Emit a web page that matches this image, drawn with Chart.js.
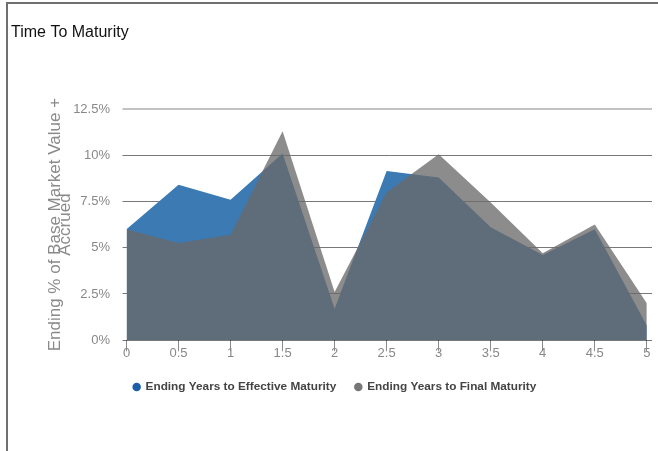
<!DOCTYPE html>
<html>
<head>
<meta charset="utf-8">
<script src="https://cdn.jsdelivr.net/npm/chart.js@4.4.1/dist/chart.umd.min.js"></script>
<style>
  html, body { margin: 0; padding: 0; background: #fff; }
  #frame {
    position: absolute; left: 6px; top: 2px; width: 652px; height: 449px;
    border-top: 2px solid #6f6f6f; border-left: 2px solid #6f6f6f; box-sizing: border-box;
  }
  #c { position: absolute; left: 0; top: 0; }
</style>
</head>
<body>
<div id="frame"></div>
<canvas id="c" width="658" height="451"></canvas>
<script>
// Years to maturity buckets (x axis)
const maturityYears = [0, 0.5, 1, 1.5, 2, 2.5, 3, 3.5, 4, 4.5, 5];
// Ending % of base market value + accrued, per bucket
const effectiveMaturityPct = [6.0, 8.4, 7.6, 10.1, 1.7, 9.15, 8.8, 6.1, 4.6, 6.0, 0.8];
const finalMaturityPct     = [6.0, 5.25, 5.7, 11.3, 2.6, 8.0, 10.05, 7.45, 4.7, 6.25, 2.0];
// Y axis tick values (percent)
const percentTicks = [0, 2.5, 5, 7.5, 10, 12.5];
const seriesNames = ['Ending Years to Effective Maturity', 'Ending Years to Final Maturity'];

const FONT = "'Liberation Sans', Arial, sans-serif";
const legendDotColors = ['#1d5ea8', '#767676'];

const toPoints = vals => maturityYears.map((x, i) => ({ x, y: vals[i] }));

// nudge the legend a little to the right of the centred position
const legendNudge = {
  id: 'legendNudge',
  afterLayout(chart) {
    const lg = chart.legend;
    if (lg) { lg.left += 3.5; lg.right += 3.5; }
  }
};

new Chart(document.getElementById('c'), {
  type: 'line',
  plugins: [legendNudge],
  data: {
    datasets: [
      {
        label: seriesNames[0],
        data: toPoints(effectiveMaturityPct),
        backgroundColor: 'rgb(60,122,180)',
        borderWidth: 0,
        pointRadius: 0,
        fill: 'origin',
        tension: 0,
        order: 2
      },
      {
        label: seriesNames[1],
        data: toPoints(finalMaturityPct),
        backgroundColor: 'rgba(105,105,105,0.77)',
        borderWidth: 0,
        pointRadius: 0,
        fill: 'origin',
        tension: 0,
        order: 1
      }
    ]
  },
  options: {
    responsive: false,
    animation: false,
    events: [],
    layout: { padding: { left: 11, right: 6, top: 0, bottom: 48 } },
    plugins: {
      title: {
        display: true,
        text: 'Time To Maturity',
        align: 'start',
        color: '#111',
        font: { family: FONT, size: 16, weight: 'normal', lineHeight: 1.2 },
        padding: { top: 23.4, bottom: 66.4 }
      },
      legend: {
        position: 'bottom',
        labels: {
          usePointStyle: true,
          pointStyle: 'circle',
          boxWidth: 6,
          boxHeight: 6,
          padding: 19,
          color: '#444',
          font: { family: FONT, size: 11.8, weight: 'bold' },
          sort: (a, b) => a.datasetIndex - b.datasetIndex,
          generateLabels(chart) {
            const items = Chart.defaults.plugins.legend.labels.generateLabels(chart);
            items.forEach(it => {
              it.fillStyle = legendDotColors[it.datasetIndex];
              it.strokeStyle = legendDotColors[it.datasetIndex];
              it.lineWidth = 0;
            });
            return items;
          }
        }
      },
      tooltip: { enabled: false }
    },
    scales: {
      x: {
        type: 'linear',
        min: 0,
        max: 5.05,
        afterBuildTicks: s => { s.ticks = maturityYears.map(v => ({ value: v })); },
        afterFit: s => { s.height = 22; },
        border: { display: false },
        grid: { drawOnChartArea: false, drawTicks: true, tickLength: 11, color: '#8a8a8a' },
        ticks: {
          autoSkip: false,
          maxRotation: 0,
          padding: -6,
          color: '#888',
          font: { family: FONT, size: 13 },
          callback: v => String(v)
        }
      },
      y: {
        min: 0,
        max: 12.5,
        z: 1,
        afterBuildTicks: s => { s.ticks = percentTicks.map(v => ({ value: v })); },
        afterFit: s => { s.width = 115.5; },
        border: { display: false },
        grid: {
          drawTicks: true,
          tickLength: 4,
          color: c => (c.tick && c.tick.value === 12.5) ? '#c2c2c2' : 'rgba(30,30,30,0.6)',
          lineWidth: c => (c.tick && c.tick.value === 12.5) ? 2 : 1
        },
        ticks: {
          padding: 12.5,
          color: '#888',
          font: { family: FONT, size: 13 },
          callback: v => v + '%'
        },
        title: {
          display: true,
          text: ['Ending % of Base Market Value +', 'Accrued'],
          color: '#8a8a8a',
          font: { family: FONT, size: 17, lineHeight: 0.6 },
          padding: { top: 39.4, bottom: 0 }
        }
      }
    }
  }
});
</script>
</body>
</html>
